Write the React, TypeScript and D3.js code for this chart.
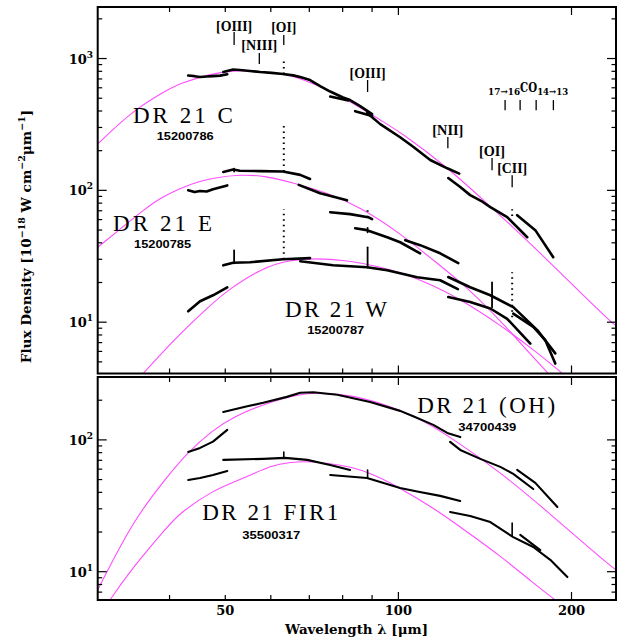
import React from "react";
import * as d3 from "d3";

type Pt = [number, number];

// ---------- axes ----------
const xDomain: [number, number] = [30, 239];
const topYDomain: [number, number] = [4.08, 2460];
const botYDomain: [number, number] = [6.1, 300];
const xTicks = [40, 50, 60, 70, 80, 90, 100, 200];
const xLongTicks = [100, 200];
const xTickLabels = [50, 100, 200];
const topYExps = [1, 2, 3];
const botYExps = [1, 2];

// ---------- DR 21 C spectrum segments (lambda um, flux) ----------
const cSeg1: Pt[] = [[43.1, 743], [44.2, 735], [45.2, 724], [46.4, 730], [47.6, 736], [49.0, 742], [50.4, 760]];
const cSeg2: Pt[] = [[49.6, 790], [51.6, 825], [53.0, 818], [55.2, 805], [57.5, 790], [60.2, 778], [63.0, 763], [65.6, 745], [67.5, 724], [70.2, 687], [73.1, 618], [76.1, 562], [80.1, 506], [82.4, 484], [85.8, 436], [90.0, 379]];
const cSeg3: Pt[] = [[76.1, 515], [81.8, 480]];
const cSeg4: Pt[] = [[84.1, 399], [90.0, 366]];
const cSeg5: Pt[] = [[88.2, 386], [93.0, 318], [100.7, 253], [106.1, 214], [113.6, 170], [121.6, 147], [127.6, 134]];
const cSeg6: Pt[] = [[122.1, 124], [128.1, 106], [133.3, 92], [140.0, 82], [144.5, 74.6], [154.6, 62.6], [167.5, 44.1]];
const cSeg7: Pt[] = [[160.9, 64.8], [173.0, 49.9], [185.9, 31.1]];

// ---------- DR 21 E ----------
const eSeg1: Pt[] = [[43.1, 100], [44.2, 97], [45.2, 99], [46.4, 98], [47.6, 102], [50.4, 109]];
const eSeg2: Pt[] = [[49.6, 138], [51.6, 144], [53.0, 141], [57.5, 140], [63.0, 139], [67.5, 131], [70.2, 122]];
const eSeg3: Pt[] = [[67.1, 110], [73.1, 95], [81.4, 84]];
const eSeg4: Pt[] = [[76.1, 68.3], [82.4, 66.0], [88.6, 62.6], [90.0, 60.4]];
const eSeg5: Pt[] = [[84.1, 51.6], [88.2, 49.9], [95.6, 44.1], [100.7, 40.4], [109.1, 33.3]];
const eSeg6: Pt[] = [[102.8, 41.9], [109.1, 38.4], [118.2, 33.3], [127.1, 28.0]];
const eSeg7: Pt[] = [[122.1, 22.0], [133.3, 18.4], [144.5, 16.0], [158.4, 13.0], [174.4, 8.7], [187.4, 5.8]];

// ---------- DR 21 W ----------
const wSeg1: Pt[] = [[43.1, 12.1], [45.2, 14.4], [47.6, 16.0], [50.4, 18.4]];
const wSeg2: Pt[] = [[49.6, 27.0], [51.6, 28.2], [55.2, 28.5], [63.0, 30.0], [70.2, 30.6]];
const wSeg3: Pt[] = [[67.5, 29.0], [77.0, 27.0], [88.2, 26.1], [95.6, 24.8], [107.8, 21.9], [118.2, 20.8], [126.9, 17.8]];
const wSeg4: Pt[] = [[122.1, 15.5], [133.3, 14.2], [144.5, 12.7], [154.6, 10.6], [169.6, 6.88]];
const wSeg5: Pt[] = [[158.4, 11.6], [171.6, 9.2], [180.1, 7.3], [187.4, 4.85]];

// ---------- DR 21 (OH) ----------
const ohSeg1: Pt[] = [[43.1, 81.1], [45.2, 86.9], [47.6, 97], [50.4, 119]];
const ohSeg2: Pt[] = [[49.6, 163], [54.6, 180], [58.2, 191], [64.0, 212], [67.5, 228], [71.1, 230], [78.3, 220], [89.3, 194], [100.7, 166], [106.1, 151], [115.0, 130], [121.6, 113], [128.1, 105]];
const ohSeg3: Pt[] = [[123.0, 96.6], [128.1, 83.9], [138.8, 71.8], [150.4, 62.4], [158.4, 55.2], [171.6, 42.4]];
const ohSeg4: Pt[] = [[160.9, 59.2], [173.0, 47.2], [189.0, 31.0]];

// ---------- DR 21 FIR1 ----------
const firSeg1: Pt[] = [[43.1, 49.7], [45.2, 51.4], [47.6, 54.2], [50.4, 58.1]];
const firSeg2: Pt[] = [[49.6, 70.5], [58.2, 71.8], [63.5, 73], [69.4, 70.5], [76.1, 64.6], [82.4, 59.2]];
const firSeg3: Pt[] = [[76.1, 54.2], [88.2, 51.4], [100.7, 43.2], [107.8, 40.6], [118.2, 37.6], [128.1, 34.4]];
const firSeg4: Pt[] = [[123.0, 28.4], [133.3, 26.5], [144.5, 23.8], [158.4, 18.3], [171.6, 15.4], [183.7, 12.3], [196.7, 9.1]];
const firSeg5: Pt[] = [[162.9, 19.0], [176.5, 14.6]];

// ---------- emission spikes: [lambda, low flux, high flux] ----------
const topDottedSpikes: [number, number, number][] = [[63.2, 763, 974], [63.2, 139, 329], [63.2, 30, 72], [88.4, 62.6, 74.6], [157.7, 10.9, 23.9], [157.7, 64, 72]];
const topSolidSpikes: [number, number, number][] = [[51.8, 28, 35], [88.4, 26, 37], [88.4, 48, 52], [145.5, 13, 20], [51.8, 139, 146]];
const botSolidSpikes: [number, number, number][] = [[63.2, 73, 81], [88.4, 51.4, 59], [157.7, 18.7, 23.4]];

// ---------- grey-body fits ----------
const fitC: Pt[] = [[30.0, 225], [34.6, 406], [39.6, 576], [41.7, 648], [47.6, 772], [51.0, 804], [55.2, 811], [58.2, 794], [64.8, 749], [67.5, 705], [76.1, 576], [88.2, 395], [93.0, 341], [100.7, 278], [121.6, 150], [140.5, 84.3], [158.4, 52.5], [176.5, 33.4], [207, 16.9], [235.5, 9.8], [240, 9.3]];
const fitE: Pt[] = [[30.0, 37.0], [32.8, 50.7], [36.0, 70.7], [38.5, 87.3], [41.7, 103.9], [45.2, 117.5], [47.6, 123.8], [53.0, 132.1], [59.1, 128.2], [64.8, 115.4], [76.1, 94.4], [85.8, 74.5], [100.7, 47.3], [115.0, 29.5], [131.8, 18.4], [150.4, 10.3], [171.6, 5.41], [182.2, 4.09]];
const fitW: Pt[] = [[36.0, 4.09], [39.6, 6.45], [42.9, 9.15], [46.5, 12.75], [50.4, 17.5], [58.2, 26.1], [64.8, 29.5], [71.1, 30.6], [81.4, 29.5], [93.0, 26.2], [100.7, 23.9], [115.0, 19.06], [131.8, 13.9], [150.4, 9.48], [171.6, 6.22], [192.8, 4.09]];
const fitOH: Pt[] = [[30.0, 7.26], [34.6, 24.7], [39.6, 52.4], [42.9, 79.7], [47.6, 119], [51.6, 149.5], [59.1, 191], [67.5, 223.5], [72.2, 227.5], [82.4, 219.6], [93.0, 191], [107.8, 149.5], [123.0, 105.4], [150.4, 57.1], [183.7, 27.4], [224, 12.9], [239, 10.3]];
const fitFIR: Pt[] = [[31.5, 6.1], [34.6, 10.9], [39.6, 21.8], [41.7, 27.9], [47.6, 41.7], [54.6, 52.4], [59.8, 63.5], [64.8, 68.1], [71.1, 68.7], [79.2, 64.6], [88.2, 58.1], [100.7, 43.2], [115.0, 30.5], [131.8, 20.0], [150.4, 13.2], [171.6, 8.2], [187.4, 6.1]];

// ---------- line identifications (top panel) ----------
const lineNames = ["[OIII]", "[NIII]", "[OI]", "[OIII]", "[NII]", "[OI]", "[CII]"];
const lineWaves = [51.8, 57.3, 63.2, 88.4, 121.9, 145.5, 157.7];
const lineTickLow = [1266, 908, 1266, 557, 209, 142, 105.7];
const lineTickHigh = [1589, 1101, 1508, 687, 253.5, 175.6, 130.4];
const lineLabelFlux = [1618, 1160, 1589, 711, 262.5, 181.8, 135];
const lineLabelWidth = [36, 36, 25, 36, 31, 26, 30];
const coWaves = [153.3, 162.8, 173.6, 186.0];
const coTickLow = 406;
const coTickHigh = 484;

// ---------- source labels: [lambda, flux] anchor ----------
const topSources = ["DR 21 C", "DR 21 E", "DR 21 W"];
const topSourceAnchor: Pt[] = [[34.55, 324], [31.9, 49.0], [63.5, 10.9]];
const topSourceWidth = [100, 99, 102];
const topIds = ["15200786", "15200785", "15200787"];
const topIdAnchor: Pt[] = [[38.0, 240.5], [34.7, 36.4], [69.4, 8.09]];
const botSources = ["DR 21 (OH)", "DR 21 FIR1"];
const botSourceAnchor: Pt[] = [[107.8, 160.3], [45.6, 24.7]];
const botSourceWidth = [138, 136];
const botIds = ["34700439", "35500317"];
const botIdAnchor: Pt[] = [[127.1, 117.0], [53.5, 17.7]];

const W = 637;
const H = 642;
const LEFT = 97.7;
const RIGHT = 616;
const TOP1 = 7;
const BOT1 = 373.5;
const TOP2 = 377;
const BOT2 = 600;

const PINK = "#ff4dff";
const SERIF_B = "'DejaVu Serif', serif";

export default function App() {
  const x = d3.scaleLog().domain(xDomain).range([LEFT, RIGHT]);
  const yT = d3.scaleLog().domain(topYDomain).range([BOT1, TOP1]);
  const yB = d3.scaleLog().domain(botYDomain).range([BOT2, TOP2]);

  const lineT = d3.line<Pt>().x((d) => x(d[0])).y((d) => yT(d[1]));
  const lineB = d3.line<Pt>().x((d) => x(d[0])).y((d) => yB(d[1]));
  const fitT = d3.line<Pt>().x((d) => x(d[0])).y((d) => yT(d[1])).curve(d3.curveBasis);
  const fitB = d3.line<Pt>().x((d) => x(d[0])).y((d) => yB(d[1])).curve(d3.curveBasis);

  const topSegs = [cSeg1, cSeg2, cSeg3, cSeg4, cSeg5, cSeg6, cSeg7, eSeg1, eSeg2, eSeg3, eSeg4, eSeg5, eSeg6, eSeg7, wSeg1, wSeg2, wSeg3, wSeg4, wSeg5];
  const botSegs = [ohSeg1, ohSeg2, ohSeg3, ohSeg4, firSeg1, firSeg2, firSeg3, firSeg4, firSeg5];

  const yTicksFor = (s: d3.ScaleLogarithmic<number, number>) =>
    s.ticks().filter((t) => t >= s.domain()[0] && t <= s.domain()[1]);

  const isDecade = (t: number) => Math.abs(Math.log10(t) - Math.round(Math.log10(t))) < 1e-6;

  const frame = (top: number, bot: number, ys: d3.ScaleLogarithmic<number, number>, key: string) => (
    <g key={key}>
      {xTicks.map((t) => {
        const len = xLongTicks.includes(t) ? 8 : 5;
        return (
          <g key={"xt" + t}>
            <line x1={x(t)} x2={x(t)} y1={bot} y2={bot - len} stroke="#000" strokeWidth={1.2} />
            <line x1={x(t)} x2={x(t)} y1={top} y2={top + len} stroke="#000" strokeWidth={1.2} />
          </g>
        );
      })}
      {yTicksFor(ys).map((t) => {
        const len = isDecade(t) ? 9 : 4.5;
        return (
          <g key={"yt" + t}>
            <line x1={LEFT} x2={LEFT + len} y1={ys(t)} y2={ys(t)} stroke="#000" strokeWidth={1.2} />
            <line x1={RIGHT} x2={RIGHT - len} y1={ys(t)} y2={ys(t)} stroke="#000" strokeWidth={1.2} />
          </g>
        );
      })}
      <rect x={LEFT} y={top} width={RIGHT - LEFT} height={bot - top} fill="none" stroke="#000" strokeWidth={2} />
    </g>
  );

  const yLabels = (exps: number[], ys: d3.ScaleLogarithmic<number, number>, key: string) =>
    exps.map((e) => (
      <text key={key + e} x={93} y={ys(Math.pow(10, e)) + 5} textAnchor="end" fontFamily={SERIF_B} fontWeight="bold" fontSize={13}>
        10<tspan dy={-6} fontSize={9}>{e}</tspan>
      </text>
    ));

  return (
    <svg width={W} height={H} style={{ position: "absolute", left: 0, top: 0, background: "#fff" }}>
      <defs>
        <clipPath id="clipTop">
          <rect x={LEFT} y={TOP1} width={RIGHT - LEFT} height={BOT1 - TOP1} />
        </clipPath>
        <clipPath id="clipBot">
          <rect x={LEFT} y={TOP2} width={RIGHT - LEFT} height={BOT2 - TOP2} />
        </clipPath>
      </defs>
      <rect x={0} y={0} width={W} height={H} fill="#fff" />

      {/* fits */}
      <g clipPath="url(#clipTop)" fill="none" stroke={PINK} strokeWidth={1.1}>
        {[fitC, fitE, fitW].map((f, i) => (
          <path key={"ft" + i} d={fitT(f) || ""} />
        ))}
      </g>
      <g clipPath="url(#clipBot)" fill="none" stroke={PINK} strokeWidth={1.1}>
        {[fitOH, fitFIR].map((f, i) => (
          <path key={"fb" + i} d={fitB(f) || ""} />
        ))}
      </g>

      {/* spectra */}
      <g clipPath="url(#clipTop)" fill="none" stroke="#000" strokeWidth={2.6} strokeLinejoin="round" strokeLinecap="round">
        {topSegs.map((s, i) => (
          <path key={"st" + i} d={lineT(s) || ""} />
        ))}
        {topSolidSpikes.map((s, i) => (
          <line key={"ss" + i} x1={x(s[0])} x2={x(s[0])} y1={yT(s[1])} y2={yT(s[2])} strokeWidth={1.8} />
        ))}
        {topDottedSpikes.map((s, i) => (
          <line key={"ds" + i} x1={x(s[0])} x2={x(s[0])} y1={yT(s[1])} y2={yT(s[2])} strokeWidth={2} strokeDasharray="1.5 4" strokeLinecap="butt" />
        ))}
      </g>
      <g clipPath="url(#clipBot)" fill="none" stroke="#000" strokeWidth={2.1} strokeLinejoin="round" strokeLinecap="round">
        {botSegs.map((s, i) => (
          <path key={"sb" + i} d={lineB(s) || ""} />
        ))}
        {botSolidSpikes.map((s, i) => (
          <line key={"bs" + i} x1={x(s[0])} x2={x(s[0])} y1={yB(s[1])} y2={yB(s[2])} strokeWidth={1.6} />
        ))}
      </g>

      {/* line identifications */}
      {lineNames.map((n, i) => (
        <g key={"ln" + i}>
          <line x1={x(lineWaves[i])} x2={x(lineWaves[i])} y1={yT(lineTickLow[i])} y2={yT(lineTickHigh[i])} stroke="#000" strokeWidth={1.3} />
          <text x={x(lineWaves[i]) - lineLabelWidth[i] / 2} y={yT(lineLabelFlux[i])} fontFamily="'Liberation Serif', serif" fontWeight="bold" fontSize={15} textLength={lineLabelWidth[i]} lengthAdjust="spacingAndGlyphs">
            {n}
          </text>
        </g>
      ))}
      {coWaves.map((w, i) => (
        <line key={"co" + i} x1={x(w)} x2={x(w)} y1={yT(coTickLow)} y2={yT(coTickHigh)} stroke="#000" strokeWidth={1.3} />
      ))}
      <text x={x(coWaves[1])} y={yT(528)} textAnchor="end" fontFamily={SERIF_B} fontWeight="bold" fontSize={9.5} textLength={32} lengthAdjust="spacingAndGlyphs">17→16</text>
      <text x={x(coWaves[1])} y={yT(557)} fontFamily={SERIF_B} fontWeight="bold" fontSize={12} textLength={17} lengthAdjust="spacingAndGlyphs">CO</text>
      <text x={x(coWaves[2]) + 1} y={yT(528)} fontFamily={SERIF_B} fontWeight="bold" fontSize={9.5} textLength={31} lengthAdjust="spacingAndGlyphs">14→13</text>

      {/* source labels */}
      {topSources.map((s, i) => (
        <text key={"ts" + i} x={x(topSourceAnchor[i][0])} y={yT(topSourceAnchor[i][1])} fontFamily="'Liberation Serif', serif" fontSize={23} textLength={topSourceWidth[i]} lengthAdjust="spacing">{s}</text>
      ))}
      {topIds.map((s, i) => (
        <text key={"ti" + i} x={x(topIdAnchor[i][0])} y={yT(topIdAnchor[i][1])} fontFamily="'Liberation Sans', sans-serif" fontWeight="bold" fontSize={11.5} textLength={57} lengthAdjust="spacingAndGlyphs">{s}</text>
      ))}
      {botSources.map((s, i) => (
        <text key={"bs" + i} x={x(botSourceAnchor[i][0])} y={yB(botSourceAnchor[i][1])} fontFamily="'Liberation Serif', serif" fontSize={23} textLength={botSourceWidth[i]} lengthAdjust="spacing">{s}</text>
      ))}
      {botIds.map((s, i) => (
        <text key={"bi" + i} x={x(botIdAnchor[i][0])} y={yB(botIdAnchor[i][1])} fontFamily="'Liberation Sans', sans-serif" fontWeight="bold" fontSize={11.5} textLength={58} lengthAdjust="spacingAndGlyphs">{s}</text>
      ))}

      {/* frames */}
      {frame(TOP1, BOT1, yT, "f1")}
      {frame(TOP2, BOT2, yB, "f2")}
      {yLabels(topYExps, yT, "yt")}
      {yLabels(botYExps, yB, "yb")}
      {xTickLabels.map((t) => (
        <text key={"xl" + t} x={x(t)} y={615} textAnchor="middle" fontFamily={SERIF_B} fontWeight="bold" fontSize={13}>{t}</text>
      ))}

      {/* axis titles */}
      <text x={356.5} y={634} textAnchor="middle" fontFamily={SERIF_B} fontWeight="bold" fontSize={13.5} textLength={143} lengthAdjust="spacingAndGlyphs">
        Wavelength λ [μm]
      </text>
      <text transform="translate(31,236.5) rotate(-90)" textAnchor="middle" fontFamily={SERIF_B} fontWeight="bold" fontSize={13.6}>
        Flux Density [10<tspan dy={-6} fontSize={9.5}>−18</tspan><tspan dy={6}> W cm</tspan><tspan dy={-6} fontSize={9.5}>−2</tspan><tspan dy={6}>μm</tspan><tspan dy={-6} fontSize={9.5}>−1</tspan><tspan dy={6}>]</tspan>
      </text>
    </svg>
  );
}
